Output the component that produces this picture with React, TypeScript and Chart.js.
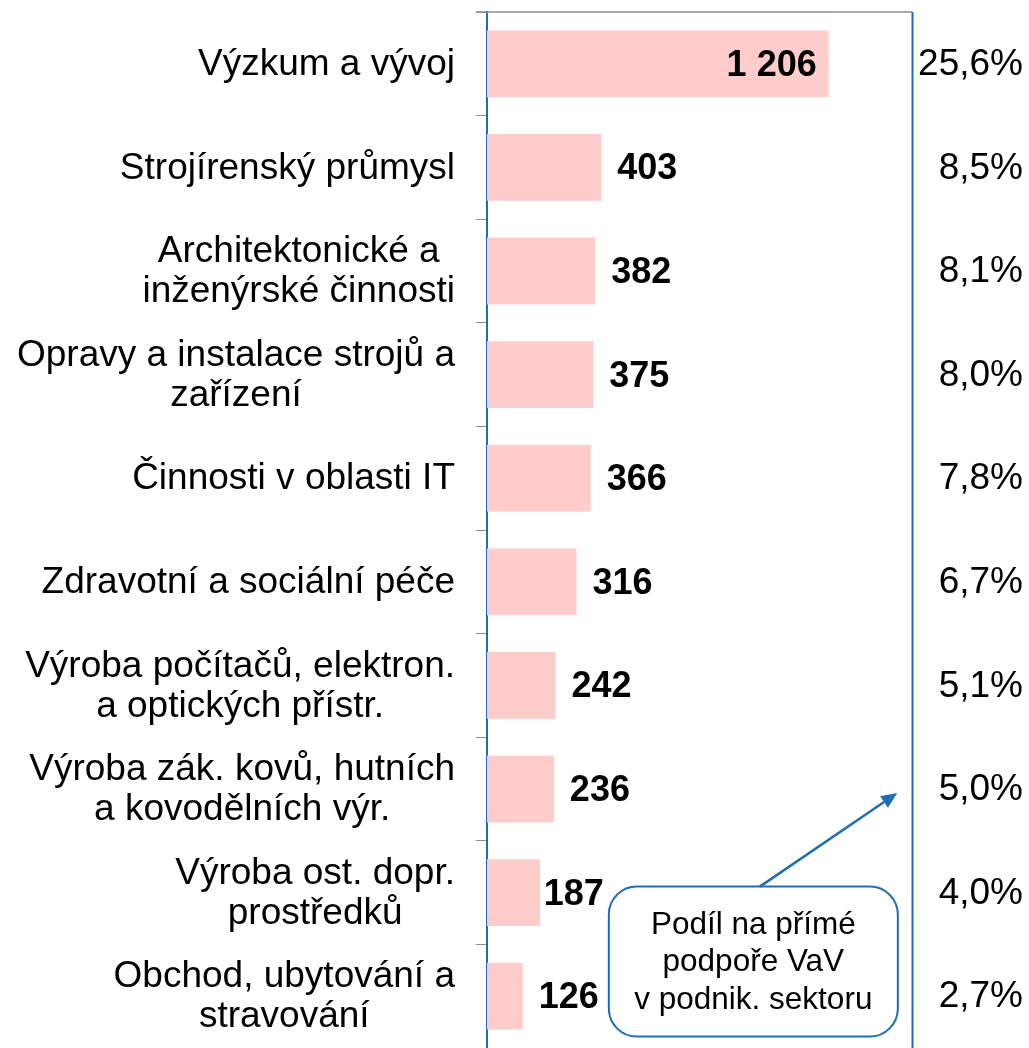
import React, { useEffect, useRef } from "react";
import { Chart, registerables } from "chart.js";

Chart.register(...registerables);

const categories: string[][] = [
  ["Výzkum a vývoj"],
  ["Strojírenský průmysl"],
  ["Architektonické a", "inženýrské činnosti"],
  ["Opravy a instalace strojů a", "zařízení"],
  ["Činnosti v oblasti IT"],
  ["Zdravotní a sociální péče"],
  ["Výroba počítačů, elektron.", "a optických přístr."],
  ["Výroba zák. kovů, hutních", "a kovodělních výr."],
  ["Výroba ost. dopr.", "prostředků"],
  ["Obchod, ubytování a", "stravování"],
];
const values: number[] = [1206, 403, 382, 375, 366, 316, 242, 236, 187, 126];
const shares: string[] = ["25,6%", "8,5%", "8,1%", "8,0%", "7,8%", "6,7%", "5,1%", "5,0%", "4,0%", "2,7%"];
const calloutLines: string[] = ["Podíl na přímé", "podpoře VaV", "v podnik. sektoru"];

const FONT = 'Arial, "Liberation Sans", sans-serif';
const BLUE = "#1F6DB3";
const GREY = "#8C8C8C";

const fmt = (v: number) => String(v).replace(/\B(?=(\d{3})+(?!\d))/g, " ");

const overlayPlugin = {
  id: "overlay",
  afterDraw(chart: any) {
    const { ctx, chartArea: ca, scales } = chart;
    const x = scales.x;
    const y = scales.y;
    ctx.save();

    // top grey line and right blue border
    ctx.strokeStyle = GREY;
    ctx.lineWidth = 1.5;
    ctx.beginPath();
    ctx.moveTo(ca.left - 11, ca.top);
    ctx.lineTo(ca.right, ca.top);
    ctx.stroke();
    ctx.strokeStyle = BLUE;
    ctx.lineWidth = 2;
    ctx.beginPath();
    ctx.moveTo(ca.right + 0.5, ca.top);
    ctx.lineTo(ca.right + 0.5, ca.bottom);
    ctx.stroke();

    // callout geometry
    const bx1 = x.getPixelForValue(430);
    const bx2 = x.getPixelForValue(1450);
    const by1 = y.getPixelForValue(8) - 6;
    const by2 = by1 + 150;

    // category labels
    ctx.fillStyle = "#000";
    ctx.textBaseline = "middle";
    ctx.font = `37px ${FONT}`;
    const lh = 40;
    categories.forEach((lines, i) => {
      const cy = y.getPixelForValue(i);
      const widths = lines.map((l) => ctx.measureText(l).width);
      const bw = Math.max(...widths);
      const cx = ca.left - 32 - bw / 2;
      ctx.textAlign = "center";
      lines.forEach((l, j) => {
        const ly = cy + (j - (lines.length - 1) / 2) * lh + 1;
        ctx.fillText(l, cx, ly);
      });
    });

    // value labels
    ctx.font = `bold 36px ${FONT}`;
    values.forEach((v, i) => {
      const cy = y.getPixelForValue(i) + 2;
      const xe = x.getPixelForValue(v);
      const txt = fmt(v);
      const w = ctx.measureText(txt).width;
      if (v > 1000) {
        ctx.textAlign = "right";
        ctx.fillText(txt, xe - 12, cy);
      } else {
        let left = xe + 16;
        if (cy > by1 - 10 && left + w > bx1 - 5) left = bx1 - 5 - w;
        ctx.textAlign = "left";
        ctx.fillText(txt, left, cy);
      }
    });

    // share labels
    ctx.font = `37px ${FONT}`;
    ctx.textAlign = "right";
    shares.forEach((s, i) => {
      ctx.fillText(s, chart.width - 6, y.getPixelForValue(i) + 1);
    });

    // callout box
    const r = 28;
    ctx.fillStyle = "#fff";
    ctx.strokeStyle = BLUE;
    ctx.lineWidth = 2;
    ctx.beginPath();
    ctx.moveTo(bx1 + r, by1);
    ctx.lineTo(bx2 - r, by1);
    ctx.arcTo(bx2, by1, bx2, by1 + r, r);
    ctx.lineTo(bx2, by2 - r);
    ctx.arcTo(bx2, by2, bx2 - r, by2, r);
    ctx.lineTo(bx1 + r, by2);
    ctx.arcTo(bx1, by2, bx1, by2 - r, r);
    ctx.lineTo(bx1, by1 + r);
    ctx.arcTo(bx1, by1, bx1 + r, by1, r);
    ctx.closePath();
    ctx.fill();
    ctx.stroke();

    ctx.fillStyle = "#000";
    ctx.font = `31.5px ${FONT}`;
    ctx.textAlign = "center";
    const bcx = (bx1 + bx2) / 2;
    const bcy = (by1 + by2) / 2 + 1;
    calloutLines.forEach((l, j) => {
      ctx.fillText(l, bcx, bcy + (j - 1) * 37.5);
    });

    // arrow
    const sx = x.getPixelForValue(963);
    const sy = by1;
    const tx = x.getPixelForValue(1448);
    const ty = y.getPixelForValue(7) + 4;
    const ang = Math.atan2(ty - sy, tx - sx);
    const hl = 16;
    const hw = 7;
    const bxp = tx - hl * Math.cos(ang);
    const byp = ty - hl * Math.sin(ang);
    ctx.strokeStyle = BLUE;
    ctx.fillStyle = BLUE;
    ctx.lineWidth = 2.5;
    ctx.beginPath();
    ctx.moveTo(sx, sy);
    ctx.lineTo(bxp, byp);
    ctx.stroke();
    ctx.beginPath();
    ctx.moveTo(tx, ty);
    ctx.lineTo(bxp + hw * Math.sin(ang), byp - hw * Math.cos(ang));
    ctx.lineTo(bxp - hw * Math.sin(ang), byp + hw * Math.cos(ang));
    ctx.closePath();
    ctx.fill();

    ctx.restore();
  },
};

export default function App() {
  const ref = useRef<HTMLCanvasElement | null>(null);
  useEffect(() => {
    if (!ref.current) return;
    const chart = new Chart(ref.current, {
      type: "bar",
      data: {
        labels: categories.map((c) => c.join(" ")),
        datasets: [
          {
            data: values,
            backgroundColor: "#FFCCCC",
            borderWidth: 0,
            barPercentage: 0.645,
            categoryPercentage: 1,
          },
        ],
      },
      options: {
        indexAxis: "y",
        animation: false,
        responsive: false,
        maintainAspectRatio: false,
        layout: { padding: { left: 476, right: 117, top: 12, bottom: -3 } },
        plugins: {
          legend: { display: false },
          tooltip: { enabled: false },
        },
        scales: {
          x: { display: false, min: 0, max: 1500 },
          y: {
            display: true,
            ticks: { display: false },
            grid: {
              display: true,
              drawOnChartArea: false,
              drawTicks: true,
              tickLength: 11,
              color: GREY,
              lineWidth: 1,
              offset: true,
            },
            border: { display: true, color: BLUE, width: 2 },
          },
        },
      },
      plugins: [overlayPlugin],
    });
    return () => chart.destroy();
  }, []);
  return (
    <div style={{ position: "absolute", left: 0, top: 0, width: 1029, height: 1048, background: "#fff" }}>
      <canvas ref={ref} width={1029} height={1048} style={{ display: "block" }} />
    </div>
  );
}
